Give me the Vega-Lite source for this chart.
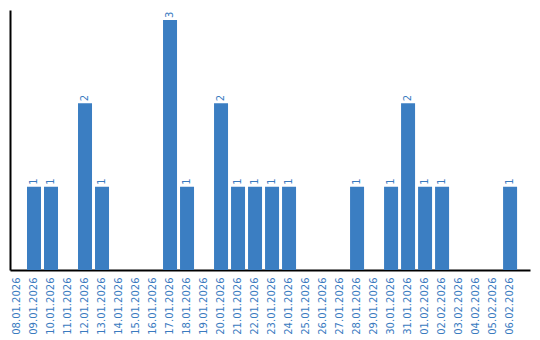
{
  "$schema": "https://vega.github.io/schema/vega-lite/v6.json",
  "width": 520,
  "height": 260,
  "padding": {"left": 10, "top": 10, "right": 10, "bottom": 70},
  "autosize": {"type": "none"},
  "background": "white",
  "config": {
    "view": {"stroke": null},
    "font": "DejaVu Sans"
  },
  "data": {
    "values": [
      {"date": "08.01.2026", "count": 0},
      {"date": "09.01.2026", "count": 1},
      {"date": "10.01.2026", "count": 1},
      {"date": "11.01.2026", "count": 0},
      {"date": "12.01.2026", "count": 2},
      {"date": "13.01.2026", "count": 1},
      {"date": "14.01.2026", "count": 0},
      {"date": "15.01.2026", "count": 0},
      {"date": "16.01.2026", "count": 0},
      {"date": "17.01.2026", "count": 3},
      {"date": "18.01.2026", "count": 1},
      {"date": "19.01.2026", "count": 0},
      {"date": "20.01.2026", "count": 2},
      {"date": "21.01.2026", "count": 1},
      {"date": "22.01.2026", "count": 1},
      {"date": "23.01.2026", "count": 1},
      {"date": "24.01.2026", "count": 1},
      {"date": "25.01.2026", "count": 0},
      {"date": "26.01.2026", "count": 0},
      {"date": "27.01.2026", "count": 0},
      {"date": "28.01.2026", "count": 1},
      {"date": "29.01.2026", "count": 0},
      {"date": "30.01.2026", "count": 1},
      {"date": "31.01.2026", "count": 2},
      {"date": "01.02.2026", "count": 1},
      {"date": "02.02.2026", "count": 1},
      {"date": "03.02.2026", "count": 0},
      {"date": "04.02.2026", "count": 0},
      {"date": "05.02.2026", "count": 0},
      {"date": "06.02.2026", "count": 1}
    ]
  },
  "encoding": {
    "x": {
      "field": "date",
      "type": "ordinal",
      "sort": null,
      "scale": {"paddingInner": 0.1765, "paddingOuter": 0.38, "align": 0},
      "axis": {
        "title": null,
        "labelAngle": -90,
        "labelAlign": "right",
        "labelBaseline": "middle",
        "labelColor": "#3a7bbf",
        "labelFont": "DejaVu Sans",
        "labelFontSize": 10,
        "labelPadding": 7,
        "ticks": false,
        "domainColor": "#000000",
        "domainWidth": 2,
        "labelOverlap": false
      }
    },
    "y": {
      "field": "count",
      "type": "quantitative",
      "scale": {"domain": [0, 3.12], "nice": false},
      "axis": {
        "title": null,
        "labels": false,
        "ticks": false,
        "grid": false,
        "domainColor": "#000000",
        "domainWidth": 2
      }
    }
  },
  "layer": [
    {
      "mark": {"type": "bar", "color": "#3b7ec2"}
    },
    {
      "transform": [{"filter": "datum.count > 0"}],
      "mark": {
        "type": "text",
        "angle": 270,
        "align": "left",
        "baseline": "middle",
        "dx": 2,
        "fontSize": 10,
        "font": "DejaVu Sans",
        "color": "#3a7bbf"
      },
      "encoding": {
        "text": {"field": "count", "type": "quantitative"}
      }
    }
  ]
}
